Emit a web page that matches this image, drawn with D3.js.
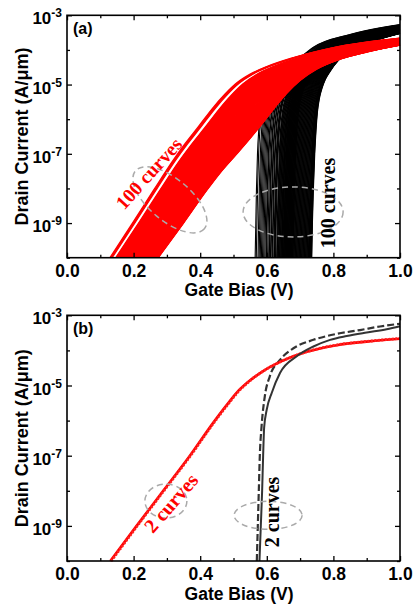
<!DOCTYPE html>
<html>
<head>
<meta charset="utf-8">
<script src="https://cdn.jsdelivr.net/npm/d3@7"></script>
<style>
body { margin: 0; background: #fff; }
</style>
</head>
<body>
<svg id="chart" width="413" height="609"></svg>
<script>
// ticks
const xMajor = [0, 0.2, 0.4, 0.6, 0.8, 1.0];
const xMinor = [0.1, 0.3, 0.5, 0.7, 0.9];
const yMajor = [1e-3, 1e-5, 1e-7, 1e-9];
const yMinor = [1e-4, 1e-6, 1e-8, 1e-10];

// panel (a): edges of each family of 100 curves (Vg in V, Id in A/um)
const redLeftVg  = [0.129, 0.20, 0.26, 0.319, 0.355, 0.394, 0.44, 0.474, 0.51, 0.55, 0.60, 0.68, 0.80, 1.0];
const redLeftId  = [1e-10, 1.12e-9, 8.9e-9, 6.6e-8, 2.0e-7, 6.0e-7, 2.24e-6, 5.25e-6, 1.12e-5, 2.0e-5, 3.3e-5, 6.0e-5, 1.17e-4, 2.19e-4];
const redRightVg = [0.274, 0.35, 0.42, 0.459, 0.51, 0.55, 0.59, 0.625, 0.66, 0.70, 0.75, 0.82, 0.90, 1.0];
const redRightId = [1e-10, 1e-9, 8.9e-9, 2.75e-8, 1e-7, 2.8e-7, 8.3e-7, 2.24e-6, 5.6e-6, 1.32e-5, 2.8e-5, 5.4e-5, 8.7e-5, 1.38e-4];

const blackLeftVg  = [0.565, 0.567, 0.569, 0.572, 0.576, 0.582, 0.592, 0.605, 0.625, 0.650, 0.700, 0.740, 0.850, 1.000];
const blackLeftId  = [1e-10, 1e-9, 1e-8, 1e-7, 5.0e-7, 1.58e-6, 4.0e-6, 7.9e-6, 1.41e-5, 2.4e-5, 6.0e-5, 1.2e-4, 2.8e-4, 5.4e-4];
const blackRightVg = [0.735, 0.737, 0.740, 0.744, 0.748, 0.752, 0.758, 0.766, 0.776, 0.790, 0.815, 0.850, 0.920, 1.000];
const blackRightId = [1e-10, 1e-9, 1e-8, 1e-7, 5.0e-7, 1.58e-6, 4.0e-6, 7.9e-6, 1.41e-5, 2.4e-5, 5.0e-5, 8.9e-5, 1.78e-4, 3.0e-4];

// position of each curve between the two edges (0 = left edge, 1 = right edge)
const redSpread = [
  0.00, 0.015, 0.03, 0.045, 0.12, 0.13, 0.14, 0.15, 0.16, 0.17,
  0.18, 0.19, 0.20, 0.21, 0.22, 0.23, 0.24, 0.25, 0.26, 0.27,
  0.28, 0.29, 0.30, 0.31, 0.32, 0.33, 0.34, 0.35, 0.36, 0.37,
  0.38, 0.39, 0.40, 0.41, 0.42, 0.43, 0.44, 0.45, 0.46, 0.47,
  0.48, 0.49, 0.50, 0.51, 0.52, 0.53, 0.54, 0.55, 0.56, 0.57,
  0.58, 0.59, 0.60, 0.61, 0.62, 0.63, 0.64, 0.65, 0.66, 0.67,
  0.68, 0.69, 0.70, 0.71, 0.72, 0.73, 0.74, 0.75, 0.76, 0.77,
  0.78, 0.79, 0.80, 0.81, 0.82, 0.83, 0.84, 0.85, 0.86, 0.87,
  0.88, 0.89, 0.90, 0.905, 0.91, 0.92, 0.93, 0.935, 0.94, 0.95,
  0.955, 0.96, 0.965, 0.97, 0.975, 0.98, 0.985, 0.99, 0.995, 1.00
];
const blackSpread = [
  0.00, 0.02, 0.05, 0.07, 0.09, 0.11, 0.13, 0.15, 0.17, 0.19,
  0.20, 0.22, 0.24, 0.25, 0.27, 0.28, 0.30, 0.31, 0.33, 0.34,
  0.35, 0.36, 0.38, 0.39, 0.40, 0.41, 0.42, 0.43, 0.44, 0.45,
  0.46, 0.47, 0.475, 0.48, 0.49, 0.50, 0.505, 0.51, 0.52, 0.525,
  0.53, 0.54, 0.545, 0.55, 0.56, 0.565, 0.57, 0.58, 0.585, 0.59,
  0.60, 0.605, 0.61, 0.62, 0.625, 0.63, 0.64, 0.645, 0.65, 0.66,
  0.665, 0.67, 0.68, 0.69, 0.70, 0.71, 0.72, 0.73, 0.74, 0.75,
  0.76, 0.77, 0.78, 0.79, 0.80, 0.81, 0.82, 0.83, 0.84, 0.85,
  0.86, 0.87, 0.88, 0.89, 0.90, 0.91, 0.92, 0.93, 0.94, 0.95,
  0.955, 0.96, 0.965, 0.97, 0.975, 0.98, 0.985, 0.99, 0.995, 1.00
];

// panel (b): 2 red curves, 2 black curves
const redB1Vg = [0.13, 0.209, 0.289, 0.369, 0.44, 0.48, 0.515, 0.55, 0.595, 0.65, 0.72, 0.81, 0.90, 1.0];
const redB1Id = [1e-10, 1e-9, 1e-8, 1e-7, 8.9e-7, 2.8e-6, 7.1e-6, 1.41e-5, 2.8e-5, 5.2e-5, 9.1e-5, 1.41e-4, 1.78e-4, 2.14e-4];
const redB2Vg = [0.133, 0.211, 0.291, 0.371, 0.442, 0.482, 0.517, 0.552, 0.597, 0.652, 0.722, 0.812, 0.902, 1.0];
const redB2Id = [1e-10, 1e-9, 1e-8, 1e-7, 8.9e-7, 2.8e-6, 7.1e-6, 1.43e-5, 2.85e-5, 5.3e-5, 9.3e-5, 1.44e-4, 1.81e-4, 2.2e-4];
const blackSolidVg = [0.578, 0.582, 0.586, 0.589, 0.592, 0.600, 0.615, 0.640, 0.690, 0.740, 0.790, 0.840, 0.900, 0.960, 1.000];
const blackSolidId = [1e-10, 1e-9, 1e-8, 1e-7, 6.3e-7, 2.1e-6, 6.2e-6, 2.3e-5, 6.8e-5, 1.29e-4, 2.0e-4, 2.57e-4, 3.24e-4, 4.0e-4, 4.9e-4];
const blackDashVg = [0.570, 0.573, 0.576, 0.579, 0.584, 0.594, 0.609, 0.640, 0.680, 0.740, 0.810, 0.880, 0.940, 1.000];
const blackDashId = [1e-10, 1e-9, 1e-8, 1e-7, 6.3e-7, 4.9e-6, 1.82e-5, 5.4e-5, 1.15e-4, 2.0e-4, 2.95e-4, 3.8e-4, 4.8e-4, 5.75e-4];

const svg = d3.select("#chart");
const sans = "'Liberation Sans', Arial, sans-serif";
const serif = "'Liberation Serif', 'Times New Roman', serif";
const pts = (vg, id) => vg.map((v, i) => ({vg: v, id: id[i]}));

function family(lVg, lId, rVg, rId, spread) {
  return spread.map(t => lVg.map((v, k) => {
    const a = Math.log10(lId[k]), b = Math.log10(rId[k]);
    return {vg: v + t * (rVg[k] - v), id: Math.pow(10, a + t * (b - a))};
  }));
}

function panel(top, bottom, name) {
  const x = d3.scaleLinear().domain([0, 1]).range([67, 400]);
  const y = d3.scaleLog().domain([1e-10, 1e-3]).range([bottom, top]);
  const g = svg.append("g");
  const line = d3.line().x(d => x(d.vg)).y(d => y(d.id)).curve(d3.curveMonotoneX);

  g.append("clipPath").attr("id", "clip" + name)
    .append("rect").attr("x", 67).attr("y", top).attr("width", 333).attr("height", bottom - top);
  const plot = g.append("g").attr("clip-path", `url(#clip${name})`);

  // axes: ticks point inward, on all four sides
  const mk = (axis, tr, ticks, size) => {
    const a = g.append("g").attr("transform", tr)
      .call(axis.tickValues(ticks).tickSizeInner(-size).tickSizeOuter(0).tickFormat(""));
    a.select(".domain").remove();
    a.selectAll("line").attr("stroke", "#000").attr("stroke-width", 1.3);
    return a;
  };
  const xa = mk(d3.axisBottom(x), `translate(0,${bottom})`, xMajor, 5);
  mk(d3.axisBottom(x), `translate(0,${bottom})`, xMinor, 3);
  mk(d3.axisTop(x), `translate(0,${top})`, xMajor, 5);
  mk(d3.axisTop(x), `translate(0,${top})`, xMinor, 3);
  const ya = mk(d3.axisLeft(y), `translate(67,0)`, yMajor, 5);
  mk(d3.axisLeft(y), `translate(67,0)`, yMinor, 3);
  mk(d3.axisRight(y), `translate(400,0)`, yMajor, 5);
  mk(d3.axisRight(y), `translate(400,0)`, yMinor, 3);

  xa.selectAll(".tick text").text(d => d.toFixed(1))
    .attr("y", 19).attr("dy", null)
    .attr("font-family", sans).attr("font-weight", "bold").attr("font-size", 17.5).attr("fill", "#000");
  ya.selectAll(".tick text").text(null)
    .attr("x", -5).attr("dy", 8.5)
    .attr("font-family", sans).attr("font-weight", "bold").attr("font-size", 17).attr("fill", "#000")
    .call(t => {
      t.append("tspan").text("10");
      t.append("tspan").attr("dy", -7).attr("font-size", 12).text(d => "-" + Math.round(-Math.log10(d)));
    });

  g.append("text").attr("x", 239).attr("y", bottom + 38.5)
    .attr("text-anchor", "middle").attr("font-family", sans).attr("font-weight", "bold").attr("font-size", 17.5)
    .text("Gate Bias (V)");
  g.append("text").attr("transform", `translate(28,${(top + bottom) / 2}) rotate(-90)`)
    .attr("text-anchor", "middle").attr("font-family", sans).attr("font-weight", "bold").attr("font-size", 18)
    .text("Drain Current (A/\u03bcm)");
  g.append("text").attr("x", 73).attr("y", top + 19)
    .attr("font-family", sans).attr("font-weight", "bold").attr("font-size", 16)
    .text(name);

  return {g, plot, x, y, line, top, bottom};
}

function frame(p) {
  p.g.append("rect").attr("x", 67).attr("y", p.top).attr("width", 333).attr("height", p.bottom - p.top)
    .attr("fill", "none").attr("stroke", "#000").attr("stroke-width", 1.6);
}

function note(p, vg, id, angle, txt, color, size) {
  p.g.append("text")
    .attr("transform", `translate(${p.x(vg)},${p.y(id)}) rotate(${angle})`)
    .attr("text-anchor", "middle").attr("dominant-baseline", "central")
    .attr("font-family", serif).attr("font-weight", "bold").attr("font-size", size || 20)
    .attr("fill", color).text(txt);
}

function ring(p, vg, id, rx, ry, angle) {
  p.g.append("ellipse")
    .attr("transform", `translate(${p.x(vg)},${p.y(id)}) rotate(${angle})`)
    .attr("rx", rx).attr("ry", ry)
    .attr("fill", "none").attr("stroke", "#aaa").attr("stroke-width", 1.5).attr("stroke-dasharray", "6,4");
}

// ---- panel (a)
const pa = panel(15.3, 257.7, "(a)");
pa.plot.append("g").selectAll("path")
  .data(family(blackLeftVg, blackLeftId, blackRightVg, blackRightId, blackSpread))
  .join("path").attr("d", pa.line)
  .attr("fill", "none").attr("stroke", "#000").attr("stroke-width", 1.1);
pa.plot.append("g").selectAll("path")
  .data(family(redLeftVg, redLeftId, redRightVg, redRightId, redSpread))
  .join("path").attr("d", pa.line)
  .attr("fill", "none").attr("stroke", "#ff0000").attr("stroke-width", 1.3);
frame(pa);
ring(pa, 0.309, 4.7e-9, 45, 21, 40);
ring(pa, 0.679, 2.1e-9, 50, 25, 0);
note(pa, 0.246, 2.7e-8, -48, "100 curves", "#ff0000", 19.5);
note(pa, 0.784, 3.8e-9, -90, "100 curves", "#000");

// ---- panel (b)
const pb = panel(315.3, 561, "(b)");
pb.plot.append("path").datum(pts(blackDashVg, blackDashId)).attr("d", pb.line)
  .attr("fill", "none").attr("stroke", "#333").attr("stroke-width", 2.2).attr("stroke-dasharray", "7,3");
pb.plot.append("path").datum(pts(redB1Vg, redB1Id)).attr("d", pb.line)
  .attr("fill", "none").attr("stroke", "#ff0000").attr("stroke-width", 2.6);
pb.plot.append("path").datum(pts(redB2Vg, redB2Id)).attr("d", pb.line)
  .attr("fill", "none").attr("stroke", "#f22").attr("stroke-width", 2.8).attr("stroke-dasharray", "2,1.5");
pb.plot.append("path").datum(pts(blackSolidVg, blackSolidId)).attr("d", pb.line)
  .attr("fill", "none").attr("stroke", "#333").attr("stroke-width", 2);
frame(pb);
ring(pb, 0.297, 5.1e-9, 21, 17, 0);
ring(pb, 0.604, 2.0e-9, 34, 14, 0);
note(pb, 0.312, 4.5e-9, -49, "2 curves", "#ff0000");
note(pb, 0.616, 2.5e-9, -90, "2 curves", "#000");
</script>
</body>
</html>
